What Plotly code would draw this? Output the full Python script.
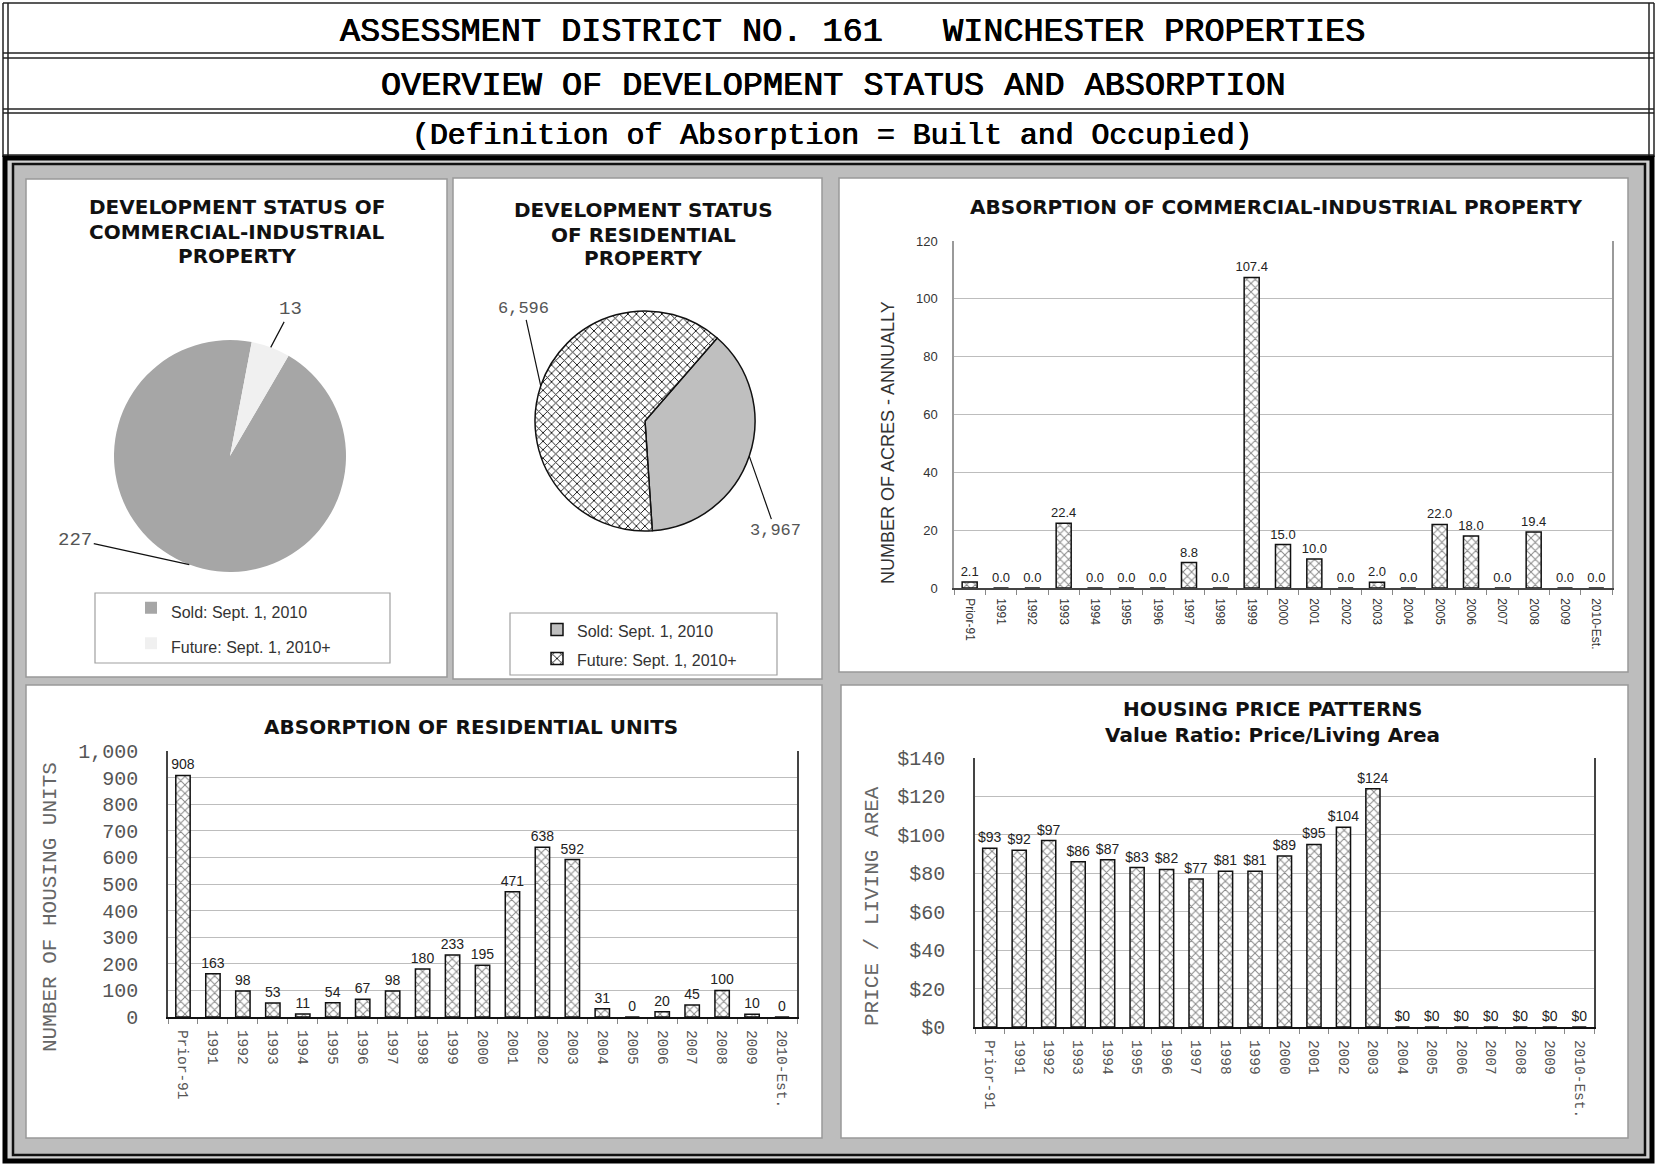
import math
import plotly.graph_objects as go

W, H = 1657, 1164

# ---------------- data ----------------
categories = ["Prior-91", "1991", "1992", "1993", "1994", "1995", "1996", "1997", "1998",
              "1999", "2000", "2001", "2002", "2003", "2004", "2005", "2006", "2007",
              "2008", "2009", "2010-Est."]
comm_acres = [2.1, 0.0, 0.0, 22.4, 0.0, 0.0, 0.0, 8.8, 0.0, 107.4, 15.0, 10.0, 0.0, 2.0,
              0.0, 22.0, 18.0, 0.0, 19.4, 0.0, 0.0]
res_units = [908, 163, 98, 53, 11, 54, 67, 98, 180, 233, 195, 471, 638, 592, 31, 0, 20,
             45, 100, 10, 0]
price_ratio = [93, 92, 97, 86, 87, 83, 82, 77, 81, 81, 89, 95, 104, 124, 0, 0, 0, 0, 0, 0, 0]
comm_status_labels = ["Sold: Sept. 1, 2010", "Future: Sept. 1, 2010+"]
res_status_labels = ["Sold: Sept. 1, 2010", "Future: Sept. 1, 2010+"]
comm_status = [227, 13]
res_status = [3967, 6596]

MONO = "Liberation Mono, Courier New, monospace"
SANS = "Liberation Sans, Arial, sans-serif"
TITLE = "DejaVu Sans, Liberation Sans, sans-serif"


def X(px):
    return px / W


def Y(py):
    return 1 - py / H


shapes = []


def rect(x0, y0, x1, y1, line="#999999", lw=1.5, fill=None):
    d = dict(type="rect", xref="paper", yref="paper", x0=X(x0), x1=X(x1), y0=Y(y1), y1=Y(y0),
             layer="below", line=dict(color=line, width=lw))
    if fill:
        d["fillcolor"] = fill
    shapes.append(d)


def line(x0, y0, x1, y1, color="#222222", lw=1.5):
    shapes.append(dict(type="line", xref="paper", yref="paper", x0=X(x0), x1=X(x1),
                       y0=Y(y0), y1=Y(y1), layer="below", line=dict(color=color, width=lw)))


# ---------------- header ----------------
for yy in [3, 53, 58, 109, 113, 155]:
    line(3, yy, 1654, yy)
for xx in [3, 8, 1649, 1654]:
    line(xx, 3, xx, 157)

# ---------------- dashboard frame ----------------
rect(5, 158, 1652, 1161, line="#000000", lw=5, fill="#d0d0d0")
rect(13, 164, 1645, 1155, line="#111111", lw=2.5, fill="#bdbdbd")

# panels
rect(26, 179, 447, 677, fill="white")
rect(453, 178, 822, 679, fill="white")
rect(839, 178, 1628, 672, fill="white")
rect(26, 685, 822, 1138, fill="white")
rect(841, 685, 1628, 1138, fill="white")

# legend boxes
rect(95, 593, 390, 663, line="#a0a0a0", lw=1.2)
rect(510, 613, 777, 675, line="#a0a0a0", lw=1.2)

fig = go.Figure()

# ---------------- pies ----------------
PIE1 = dict(cx=230, cy=456, r=116, rot=30.3)
PIE2 = dict(cx=645, cy=421, r=110, rot=41)


def pie_domain(p):
    return dict(x=[X(p["cx"] - p["r"]), X(p["cx"] + p["r"])],
                y=[Y(p["cy"] + p["r"]), Y(p["cy"] - p["r"])])


def legend_text(labels, suffix=""):
    # small text inside a taller legend row (legend font size sets the row spacing)
    return [f"<span style='font-size:16px'>{s}</span>{suffix}" for s in labels]


fig.add_trace(go.Pie(
    labels=legend_text(comm_status_labels), values=comm_status, sort=False,
    direction="clockwise", rotation=PIE1["rot"], domain=pie_domain(PIE1), textinfo="none",
    hoverinfo="label+value",
    marker=dict(colors=["#a6a6a6", "#f0f0f0"], line=dict(width=0)),
    legend="legend", showlegend=True,
))
fig.add_trace(go.Pie(
    labels=legend_text(res_status_labels, "\u200b"), values=res_status, sort=False,
    direction="clockwise", rotation=PIE2["rot"], domain=pie_domain(PIE2), textinfo="none",
    hoverinfo="label+value",
    marker=dict(colors=["#bfbfbf", "white"], line=dict(color="#111111", width=1.5),
                pattern=dict(shape=["", "x"], fgcolor="#111111", bgcolor=["#bfbfbf", "white"],
                             size=6, solidity=0.28)),
    legend="legend2", showlegend=True,
))


def slice_anchor(values, p, idx):
    total = sum(values)
    start = p["rot"] + 360.0 * sum(values[:idx]) / total
    mid = math.radians(start + 180.0 * values[idx] / total)
    return p["cx"] + p["r"] * math.sin(mid), p["cy"] - p["r"] * math.cos(mid)


annotations = []


def pie_label(values, p, idx, ax, ay, size):
    x, y = slice_anchor(values, p, idx)
    annotations.append(dict(
        x=X(x), y=Y(y), xref="paper", yref="paper", text=f"{values[idx]:,}",
        showarrow=True, arrowhead=0, arrowwidth=1.2, arrowcolor="#111111", ax=ax, ay=ay,
        standoff=0, font=dict(family=MONO, size=size, color="#555555")))


pie_label(comm_status, PIE1, 0, -114, -25, 19)
pie_label(comm_status, PIE1, 1, 20, -38, 19)
pie_label(res_status, PIE2, 0, 26, 74, 17)
pie_label(res_status, PIE2, 1, -17, -77, 17)

# ---------------- bars ----------------
bar_marker = dict(color="white", line=dict(color="#111111", width=1.5),
                  pattern=dict(shape="x", fgcolor="#111111", bgcolor="white", size=6, solidity=0.3))

fig.add_trace(go.Bar(x=categories, y=comm_acres, xaxis="x", yaxis="y", marker=bar_marker,
                     texttemplate="%{y:.1f}", textposition="outside", cliponaxis=False,
                     constraintext="none", showlegend=False,
                     textfont=dict(family=SANS, size=13, color="#222222")))
fig.add_trace(go.Bar(x=categories, y=res_units, xaxis="x2", yaxis="y2", marker=bar_marker,
                     texttemplate="%{y}", textposition="outside", cliponaxis=False,
                     constraintext="none", showlegend=False,
                     textfont=dict(family=SANS, size=14, color="#222222")))
fig.add_trace(go.Bar(x=categories, y=price_ratio, xaxis="x3", yaxis="y3", marker=bar_marker,
                     texttemplate="%{y}", textposition="outside", cliponaxis=False,
                     constraintext="none", showlegend=False,
                     textfont=dict(family=SANS, size=14, color="#222222")))


def cat_axis(domain, anchor, font, lcolor, lwidth, standoff):
    return dict(domain=[X(domain[0]), X(domain[1])], anchor=anchor, type="category",
                tickangle=90, ticks="outside", tickson="boundaries", ticklen=5,
                tickcolor="#888888", showline=True, linecolor=lcolor, linewidth=lwidth,
                showgrid=False, tickfont=font, fixedrange=True, ticklabelstandoff=standoff,
                automargin=False)


def val_axis(domain, anchor, rng, dtick, font, lcolor, standoff, **kw):
    d = dict(domain=[Y(domain[1]), Y(domain[0])], anchor=anchor, range=rng, dtick=dtick,
             showgrid=True, gridcolor="#bdbdbd", gridwidth=1.2, showline=True, linecolor=lcolor,
             linewidth=1.5, mirror=True, zeroline=False, tickfont=font, ticks="", fixedrange=True,
             ticklabelstandoff=standoff, automargin=False)
    d.update(kw)
    return d


layout_axes = dict(
    xaxis=cat_axis((954, 1612), "y", dict(family=SANS, size=12, color="#333333"), "#444444", 1.5, 6),
    yaxis=val_axis((241, 588), "x", [0, 120], 20, dict(family=SANS, size=13, color="#333333"),
                   "#9a9a9a", 12),
    xaxis2=cat_axis((168, 797), "y2", dict(family=MONO, size=14.5, color="#555555"), "#111111", 2, 8),
    yaxis2=val_axis((751, 1017), "x2", [0, 1000], 100, dict(family=MONO, size=20, color="#555555"),
                    "#444444", 24, tickformat=","),
    xaxis3=cat_axis((975, 1594), "y3", dict(family=MONO, size=14.5, color="#555555"), "#111111", 2, 8),
    yaxis3=val_axis((758, 1027), "x3", [0, 140], 20, dict(family=MONO, size=20, color="#555555"),
                    "#444444", 24, tickprefix="$"),
)


def text(x, y, s, family, size, color="#111111", bold=False, angle=0, shadow=None):
    if bold:
        s = "<b>" + s + "</b>"
    font = dict(family=family, size=size, color=color)
    if shadow:
        font["shadow"] = shadow
    annotations.append(dict(x=X(x), y=Y(y), xref="paper", yref="paper", text=s,
                            showarrow=False, textangle=angle, xanchor="center", yanchor="middle",
                            font=font))


# header text (slightly thickened strokes)
HEAD_SHADOW = "0.5px 0px 0px #000000, -0.4px 0px 0px #000000"
text(852, 32, "ASSESSMENT DISTRICT NO. 161&nbsp;&nbsp; WINCHESTER PROPERTIES", MONO, 33.5,
     "#000000", shadow=HEAD_SHADOW)
text(833, 86, "OVERVIEW OF DEVELOPMENT STATUS AND ABSORPTION", MONO, 33.5, "#000000",
     shadow=HEAD_SHADOW)
text(832, 136, "(Definition of Absorption = Built and Occupied)", MONO, 29.8, "#000000",
     shadow=HEAD_SHADOW)

# panel titles
for yy, s in zip([207, 232, 256], ["DEVELOPMENT STATUS OF", "COMMERCIAL-INDUSTRIAL", "PROPERTY"]):
    text(237, yy, s, TITLE, 20, bold=True)
for yy, s in zip([210, 235, 258], ["DEVELOPMENT STATUS", "OF RESIDENTIAL", "PROPERTY"]):
    text(643, yy, s, TITLE, 20, bold=True)
text(1276, 207, "ABSORPTION OF COMMERCIAL-INDUSTRIAL PROPERTY", TITLE, 20, bold=True)
text(471, 727, "ABSORPTION OF RESIDENTIAL UNITS", TITLE, 20, bold=True)
text(1272, 709, "HOUSING PRICE PATTERNS", TITLE, 20, bold=True)
text(1272, 735, "Value Ratio: Price/Living Area", TITLE, 20, bold=True)

# axis titles
text(888, 442, "NUMBER OF ACRES - ANNUALLY", SANS, 18, "#333333", angle=-90)
text(50, 907, "NUMBER OF HOUSING UNITS", MONO, 21, "#666666", angle=-90)
text(872, 906, "PRICE / LIVING AREA", MONO, 21, "#666666", angle=-90)


def legend_cfg(x, y, spacing_size):
    return dict(x=X(x), y=Y(y), xanchor="left", yanchor="top", bgcolor="rgba(0,0,0,0)",
                borderwidth=0, font=dict(family=SANS, size=spacing_size, color="#333333"),
                itemclick=False, itemdoubleclick=False)


fig.update_layout(
    width=W, height=H, margin=dict(l=0, r=0, t=0, b=0, pad=0, autoexpand=False),
    paper_bgcolor="white", plot_bgcolor="rgba(0,0,0,0)",
    shapes=shapes, annotations=annotations,
    bargap=0.52,
    legend=legend_cfg(131, 585, 25),
    legend2=legend_cfg(537, 610, 20),
    **layout_axes,
)

fig.write_html("out.html",
               post_script="document.body.style.margin='0px';document.body.style.padding='0px';")
